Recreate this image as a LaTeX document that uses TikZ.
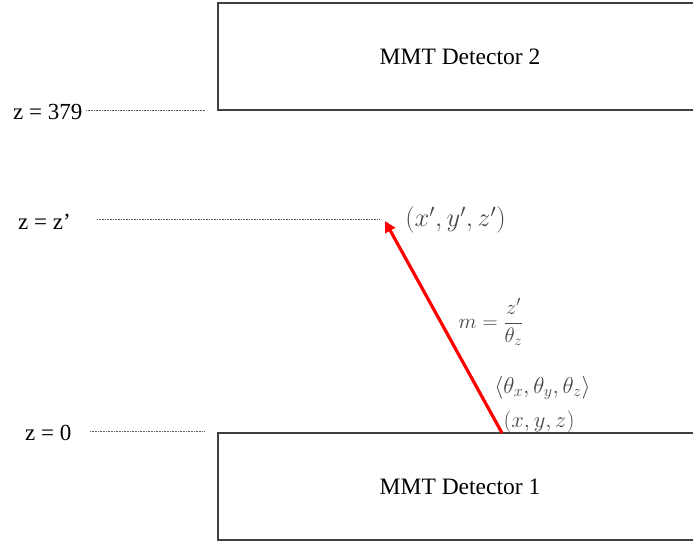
\RequirePackage{fix-cm}
\documentclass[tikz,border=0pt]{standalone}
\usepackage{amsmath}
\usepackage{fontspec}
\setmainfont{LiberationSerif}[Extension=.ttf,UprightFont=*-Regular,BoldFont=*-Bold,ItalicFont=*-Italic,BoldItalicFont=*-BoldItalic]
\usetikzlibrary{arrows.meta}
\begin{document}
\begin{tikzpicture}[x=1pt,y=1pt,
  detbox/.style={draw=black!75,line width=1.1pt,rectangle,minimum width=484pt,minimum height=107pt,inner sep=0pt,font=\fontsize{23.5}{27}\selectfont},
  zlab/.style={anchor=west,inner sep=0pt,font=\fontsize{23}{27}\selectfont},
  dotline/.style={draw=black!65,line width=0.7pt,dash pattern=on 0.8pt off 0.8pt},
  mlab/.style={inner sep=0pt,text=black!72},
  track/.style={draw=red,line width=3.2pt,-{Triangle[length=11pt,width=11pt]}}
]
\useasboundingbox (0,0) rectangle (693,542);
% detectors
\node[detbox] (det2) at (460,485.5) {MMT Detector 2};
\node[detbox] (det1) at (460,55.5) {MMT Detector 1};
% z labels
\node[zlab] (z379) at (13,430) {z = 379};
\node[zlab] (zzp) at (18,320) {z = z’};
\node[zlab] (z0) at (25,109) {z = 0};
% dotted level lines
\coordinate (a379) at (86,431.5);
\coordinate (b379) at (205,431.5);
\coordinate (azp) at (97,322.5);
\coordinate (bzp) at (380,322.5);
\coordinate (a0) at (90,111);
\coordinate (b0) at (204,111);
\draw[dotline] (a379) -- (b379);
\draw[dotline] (azp) -- (bzp);
\draw[dotline] (a0) -- (b0);
% track
\coordinate (p0) at (502,109);
\coordinate (p1) at (385,321);
\draw[track] (p0) -- (p1);
% math labels
\node[mlab,font=\fontsize{26.5}{30}\selectfont] (xp) at (455.5,322) {$(x',y',z')$};
\node[mlab,font=\fontsize{21}{24}\selectfont] (slope) at (491,220) {$m=\dfrac{z'}{\theta_z}$};
\node[mlab,font=\fontsize{23}{27}\selectfont] (ang) at (542.5,154) {$\langle\theta_x,\theta_y,\theta_z\rangle$};
\node[mlab,font=\fontsize{22.5}{26}\selectfont] (xyz) at (539,120) {$(x,y,z)$};
\end{tikzpicture}
\end{document}
